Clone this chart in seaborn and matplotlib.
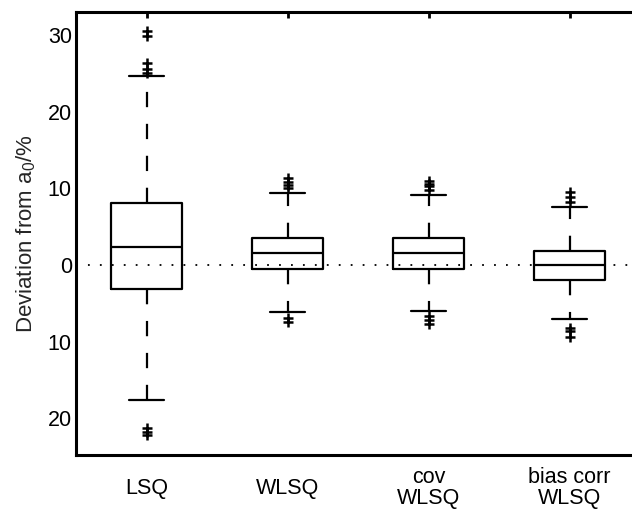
import numpy as np
import pandas as pd
import matplotlib
matplotlib.use("Agg")
import matplotlib.pyplot as plt
import seaborn as sns

# ---- data ----
categories = ["LSQ", "WLSQ", "cov\nWLSQ", "bias corr\nWLSQ"]
q1 = [-3.1, -0.55, -0.55, -1.98]
median = [2.36, 1.58, 1.58, 0.0]
q3 = [8.05, 3.46, 3.46, 1.84]
whisker_low = [-17.65, -6.2, -6.03, -7.1]
whisker_high = [24.6, 9.33, 9.1, 7.6]
outliers_lsq = [25.0, 25.5, 26.3, 29.9, 30.5, -21.3, -21.8, -22.2]
outliers_wlsq = [10.0, 10.4, 10.8, 11.3, -6.9, -7.5]
outliers_cov = [9.8, 10.3, 10.6, 10.9, -6.7, -7.2, -7.7]
outliers_bias = [8.2, 8.85, 9.5, -8.2, -8.6, -9.4]
ytick_values = [-20, -10, 0, 10, 20, 30]
ytick_labels = ["20", "10", "0", "10", "20", "30"]
ylabel = "Deviation from $\\mathregular{a_0}$/%"

sns.set_style("white")
plt.rcParams["font.family"] = ["Liberation Sans", "DejaVu Sans"]
plt.rcParams["lines.scale_dashes"] = False

fig = plt.figure(figsize=(6.32, 5.09), dpi=100)
ax = fig.add_axes([76 / 632, (509 - 455) / 509, 564 / 632, 443 / 509])

positions = list(range(len(categories)))
stats = []
for i in positions:
    stats.append(dict(q1=q1[i], med=median[i], q3=q3[i],
                      whislo=whisker_low[i], whishi=whisker_high[i],
                      fliers=[], label=categories[i]))

ax.axhline(0, color="black", lw=1.3, ls=(0, (1.3, 7.3)), zorder=1)

lw = 1.6
ax.bxp(stats, positions=positions, widths=0.5, capwidths=0.25,
       showfliers=False, patch_artist=False,
       boxprops=dict(color="black", lw=lw),
       medianprops=dict(color="black", lw=lw),
       whiskerprops=dict(color="black", lw=lw, ls=(0, (11, 12))),
       capprops=dict(color="black", lw=lw), manage_ticks=False, zorder=3)

all_out = [outliers_lsq, outliers_wlsq, outliers_cov, outliers_bias]
fl = pd.DataFrame({
    "pos": [p for p, vals in zip(positions, all_out) for _ in vals],
    "value": [v for vals in all_out for v in vals],
})
sns.scatterplot(data=fl, x="pos", y="value", marker="+", color="black",
                s=45, linewidth=1.8, ax=ax, zorder=4, legend=False)

ax.set_xlim(-0.5, 3.5)
ax.set_ylim(-24.8, 33)
ax.set_xticks(positions)
ax.set_xticklabels(categories, fontsize=15.5, va="center", linespacing=1.02)
ax.set_yticks(ytick_values)
ax.set_yticklabels(ytick_labels, fontsize=15.5)
ax.set_xlabel("")
ax.set_ylabel(ylabel, fontsize=16, labelpad=7)

for s in ax.spines.values():
    s.set_linewidth(2.2)
    s.set_color("black")
ax.tick_params(axis="both", direction="in", length=4, width=2,
               top=True, right=True, colors="black")
ax.tick_params(axis="x", pad=24)
ax.tick_params(axis="y", pad=3)

fig.savefig("out.png", dpi=100)
